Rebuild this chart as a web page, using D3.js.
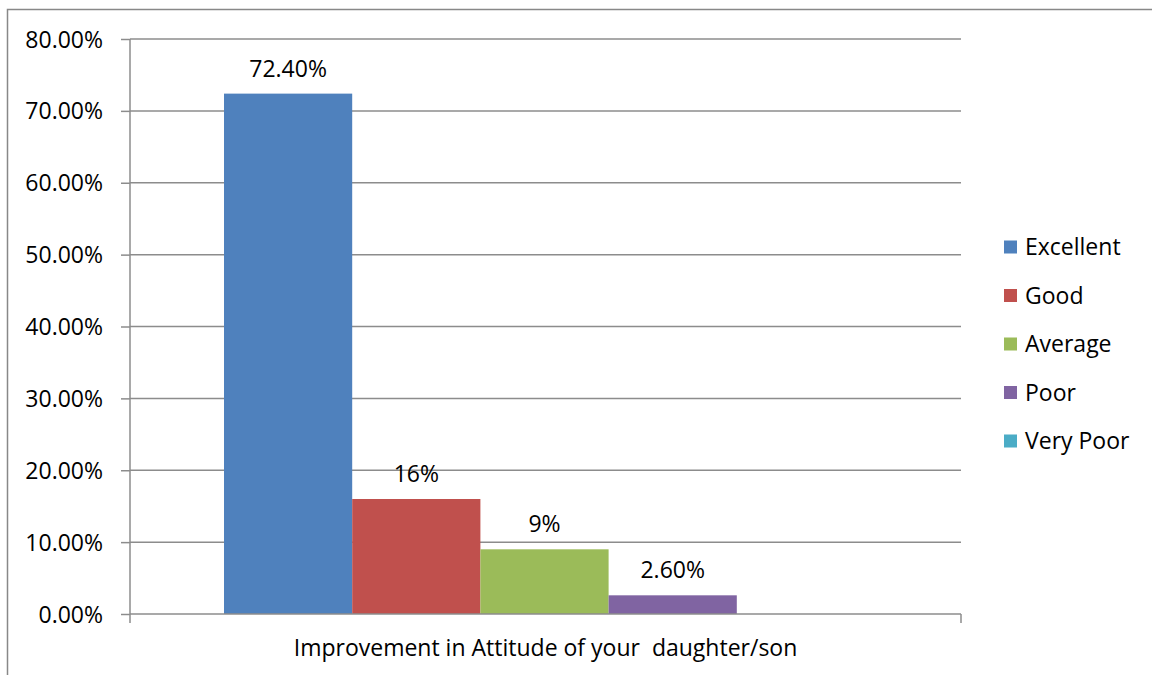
<!DOCTYPE html>
<html><head><meta charset="utf-8">
<script src="https://cdn.jsdelivr.net/npm/d3@7"></script>
<style>body{margin:0;background:#fff}svg{display:block}text{font-family:"Open Sans",sans-serif;fill:#000}</style>
</head><body><svg id="c" width="1152" height="675"></svg>
<script>
const categories = ["Improvement in Attitude of your  daughter/son"];
const seriesNames = ["Excellent","Good","Average","Poor","Very Poor"];
const seriesValues = [0.724,0.16,0.09,0.026,0];
const seriesLabels = ["72.40%","16%","9%","2.60%",""];
const colors = ["#4F81BD","#C0504D","#9BBB59","#8064A2","#4BACC6"];
const yTicks = [0,0.1,0.2,0.3,0.4,0.5,0.6,0.7,0.8];

const FS = "23px";
const svg = d3.select("#c");
svg.append("path").attr("d","M7.5,675 V9.5 H1152").attr("fill","none").attr("stroke","#888").attr("stroke-width",1.5);

const L=130,R=961,T=39,B=614;
const y = d3.scaleLinear().domain([0,0.8]).range([B,T]);
const x0 = d3.scaleBand().domain(categories).range([L,R]).paddingInner(0).paddingOuter(0);
const x1 = d3.scaleBand().domain(seriesNames).range([x0(categories[0])+94, x0(categories[0])+x0.bandwidth()-96]).padding(0);

svg.append("g").selectAll("line").data(yTicks.filter(d=>d>0)).join("line")
  .attr("x1",L).attr("x2",R).attr("y1",d=>y(d)).attr("y2",d=>y(d))
  .attr("stroke","#8c8c8c").attr("stroke-width",1.5);

const yAxis = d3.axisLeft(y).tickValues(yTicks).tickFormat(d=>d3.format(".2%")(d)).tickSize(9).tickPadding(18);
const ga = svg.append("g").attr("transform",`translate(${L},0)`).call(yAxis);
ga.select(".domain").attr("stroke","#8c8c8c").attr("stroke-width",1.5).attr("d",`M0,${T}V${B}`);
ga.selectAll(".tick line").attr("stroke","#8c8c8c").attr("stroke-width",1.5);
ga.selectAll(".tick text").style("font-size",FS).attr("font-family","'Open Sans',sans-serif").attr("fill","#000").attr("dy","0.35em");

const g = svg.append("g");
g.selectAll("rect").data(seriesNames).join("rect")
  .attr("x",(d)=>x1(d)).attr("width",x1.bandwidth())
  .attr("y",(d,i)=>y(seriesValues[i])).attr("height",(d,i)=>B-y(seriesValues[i]))
  .attr("fill",(d,i)=>colors[i]);
g.selectAll("text").data(seriesNames).join("text")
  .attr("x",d=>x1(d)+x1.bandwidth()/2).attr("y",(d,i)=>y(seriesValues[i])-17)
  .attr("text-anchor","middle").style("font-size",FS).text((d,i)=>seriesLabels[i]);

const gx = svg.append("g").attr("transform",`translate(0,${B})`);
gx.append("line").attr("x1",L).attr("x2",R).attr("stroke","#8c8c8c").attr("stroke-width",1.5);
gx.selectAll("line.t").data([L,R]).join("line").attr("class","t").attr("x1",d=>d).attr("x2",d=>d).attr("y1",0).attr("y2",9).attr("stroke","#8c8c8c").attr("stroke-width",1.5);
gx.append("text").attr("x",x0(categories[0])+x0.bandwidth()/2).attr("y",42).attr("text-anchor","middle").style("font-size",FS).style("white-space","pre").text(categories[0]);

const lg = svg.append("g").attr("transform","translate(1004,247)");
const items = lg.selectAll("g").data(seriesNames).join("g").attr("transform",(d,i)=>`translate(0,${i*48.5})`);
items.append("rect").attr("x",0).attr("y",-6.5).attr("width",13).attr("height",13).attr("fill",(d,i)=>colors[i]);
items.append("text").attr("x",21).attr("y",0).attr("dy","0.35em").style("font-size",FS).text(d=>d);
</script></body></html>
